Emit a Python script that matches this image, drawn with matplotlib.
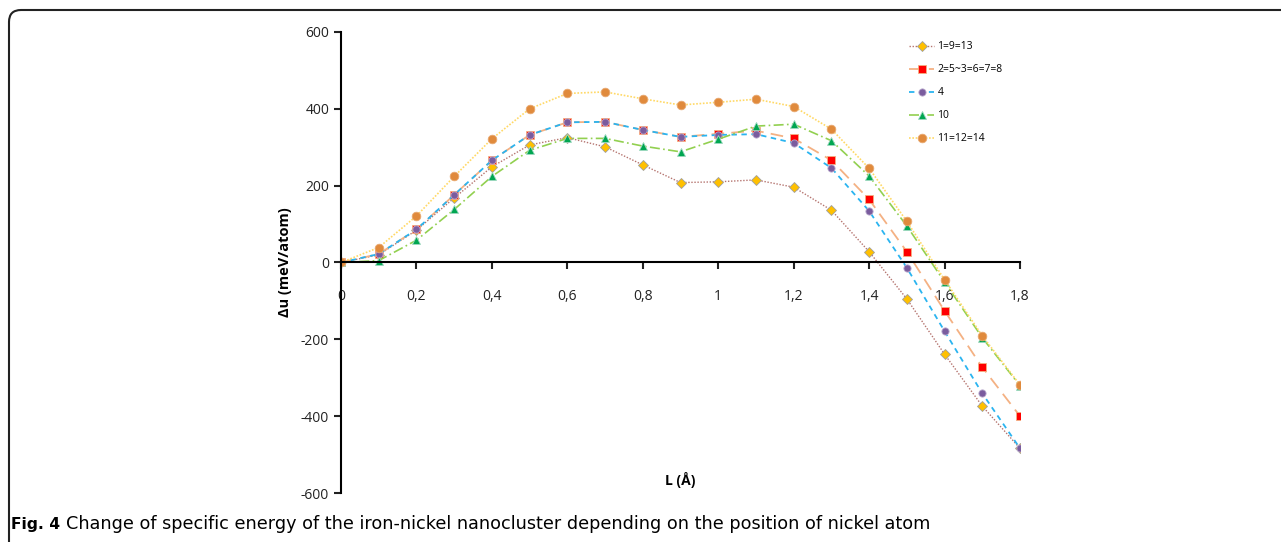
import matplotlib
matplotlib.use("Agg")
import matplotlib.pyplot as plt
from matplotlib.patches import FancyBboxPatch
from matplotlib.transforms import IdentityTransform
from matplotlib.ticker import FuncFormatter

plt.rcParams["axes.unicode_minus"] = False

# Data
L = [0, 0.1, 0.2, 0.3, 0.4, 0.5, 0.6, 0.7, 0.8, 0.9,
     1.0, 1.1, 1.2, 1.3, 1.4, 1.5, 1.6, 1.7, 1.8]

s_1_9_13 = [0, 20, 84, 168, 249, 306, 325, 301, 254, 208,
            210, 215, 196, 136, 28, -95, -239, -374, -484]
s_2_5_3_6_7_8 = [0, 22, 86, 176, 266, 332, 365, 366, 345, 327,
                 335, 343, 323, 266, 164, 28, -126, -273, -400]
s_4 = [0, 22, 86, 176, 266, 332, 365, 366, 345, 327,
       332, 334, 311, 246, 134, -14, -179, -341, -484]
s_10 = [0, 5, 58, 138, 224, 292, 323, 323, 303, 288,
        321, 355, 360, 317, 225, 95, -51, -196, -321]
s_11_12_14 = [0, 39, 121, 224, 322, 400, 440, 444, 426, 410,
              417, 425, 406, 347, 245, 107, -45, -191, -319]

labels = ["1=9=13", "2=5~3=6=7=8", "4", "10", "11=12=14"]

fig = plt.figure(figsize=(12.81, 5.42), dpi=100)
ax = fig.add_axes([0.2662, 0.0904, 0.5301, 0.8506])

ax.plot(L, s_1_9_13, color="#B5746F", ls=(0, (1, 1.2)), lw=1.0,
        marker="D", ms=4.8, mfc="#FFC000", mec="#A0A0A0", mew=0.6, label=labels[0])
ax.plot(L, s_2_5_3_6_7_8, color="#F4B183", ls=(0, (7, 4)), lw=1.3,
        marker="s", ms=5.2, mfc="#FF0000", mec="#F4B183", mew=0.6, label=labels[1])
ax.plot(L, s_4, color="#2AB4F0", ls=(0, (3, 2.5)), lw=1.3,
        marker="o", ms=5.2, mfc="#7A5C9E", mec="#B8A8CC", mew=0.6, label=labels[2])
ax.plot(L, s_10, color="#92D050", ls=(0, (6, 2, 1, 2)), lw=1.2,
        marker="^", ms=5.8, mfc="#00A651", mec="#9ED8C0", mew=0.6, label=labels[3])
ax.plot(L, s_11_12_14, color="#FFD966", ls=(0, (1, 1)), lw=1.2,
        marker="o", ms=6.2, mfc="#E08A3C", mec="#E8A870", mew=0.6, label=labels[4])

ax.set_xlim(0, 1.8)
ax.set_ylim(-600, 600)
ax.set_xticks([0, 0.2, 0.4, 0.6, 0.8, 1.0, 1.2, 1.4, 1.6, 1.8])
ax.set_yticks([-600, -400, -200, 0, 200, 400, 600])
ax.xaxis.set_major_formatter(FuncFormatter(lambda v, p: ("%g" % round(v, 1)).replace(".", ",")))

for side in ["top", "right"]:
    ax.spines[side].set_visible(False)
ax.spines["bottom"].set_position(("data", 0))
ax.spines["bottom"].set_linewidth(1.5)
ax.spines["left"].set_linewidth(1.5)
ax.tick_params(axis="both", direction="out", length=5, width=1.5,
               labelsize=10, colors="#222222")
ax.tick_params(axis="x", pad=14)
for t in ax.get_xticklabels() + ax.get_yticklabels():
    t.set_fontfamily("Open Sans")

ax.set_ylabel("Δu (meV/atom)", fontsize=10.5, fontweight="bold", family="Open Sans")
ax.yaxis.set_label_coords(-0.072, 0.5)
ax.text(0.499, 0.028, "L (Å)", transform=ax.transAxes, fontsize=10,
        fontweight="bold", family="Open Sans", ha="center", va="center")

ax.legend(loc="upper left", bbox_to_anchor=(0.823, 1.0), frameon=False,
          labelspacing=1.15, handlelength=2.4, handletextpad=0.3,
          prop={"family": "Open Sans", "size": 7.5})

# caption
fig.text(0.0086, 0.033, "Fig. 4", fontsize=11.2, fontweight="bold",
         family="DejaVu Sans", va="center")
fig.text(0.0515, 0.033, "Change of specific energy of the iron-nickel nanocluster depending on the position of nickel atom",
         fontsize=12.7, family="DejaVu Sans", va="center")

# rounded frame at top-left
frame = FancyBboxPatch((9, -40), 1400, 542 - 10 + 40,
                       boxstyle="round,pad=0,rounding_size=12",
                       transform=IdentityTransform(), fill=False,
                       ec="#222222", lw=1.5)
fig.patches.append(frame)

fig.savefig("out.png", dpi=100)
